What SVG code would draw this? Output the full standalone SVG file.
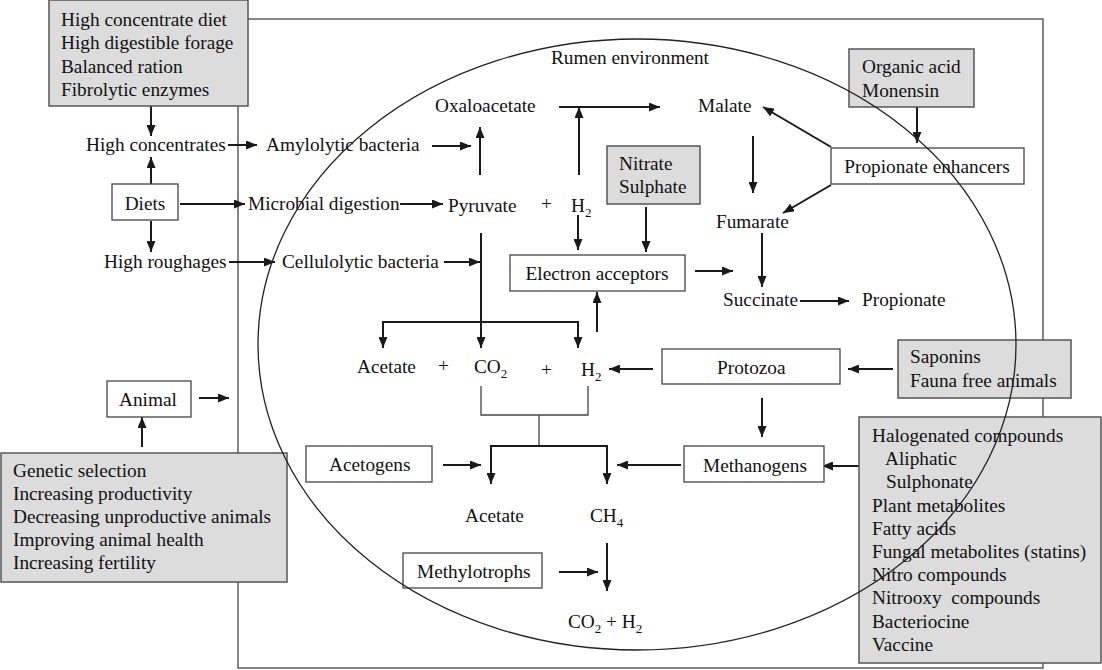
<svg xmlns="http://www.w3.org/2000/svg" width="1102" height="670" viewBox="0 0 1102 670">
<defs>
<marker id="ah" markerUnits="userSpaceOnUse" markerWidth="11" markerHeight="9" refX="11" refY="4.5" orient="auto"><path d="M0,0 L11,4.5 L0,9 z" fill="#1a1a1a"/></marker>
<style>
text{font-family:"Liberation Serif","Times New Roman",serif;font-size:19.3px;fill:#111}
.c{text-anchor:middle}
.sub{font-size:13px}
.gbox{fill:#dcdcdc;stroke:#555;stroke-width:1.5}
.wbox{fill:#fff;stroke:#444;stroke-width:1.3}
.frame{fill:none;stroke:#444;stroke-width:1.3}
.arr{fill:none;stroke:#1a1a1a;stroke-width:2;marker-end:url(#ah)}
.ln{fill:none;stroke:#1a1a1a;stroke-width:2}
.thin{fill:none;stroke:#444;stroke-width:1.3}
</style>
</defs>
<rect width="1102" height="670" fill="#fff"/>
<rect id="frame" class="frame" x="238" y="19" width="805" height="649"/>

<g id="connectors">
<line class="arr" x1="151" y1="106" x2="151" y2="136"/>
<line class="arr" x1="151" y1="184" x2="151" y2="157"/>
<line class="arr" x1="151" y1="221" x2="151" y2="252"/>
<line class="arr" x1="228" y1="145" x2="257" y2="145"/>
<line class="arr" x1="180" y1="204" x2="245" y2="204"/>
<line class="arr" x1="229" y1="262" x2="275" y2="262"/>
<line class="arr" x1="432" y1="146" x2="471" y2="146"/>
<line class="arr" x1="480" y1="175" x2="480" y2="127"/>
<line class="arr" x1="400" y1="204" x2="443" y2="204"/>
<line class="arr" x1="481" y1="233" x2="481" y2="348"/>
<line class="arr" x1="444" y1="262" x2="480" y2="262"/>
<path class="ln" d="M383,322 H578"/>
<line class="arr" x1="383" y1="321" x2="383" y2="348"/>
<line class="arr" x1="578" y1="321" x2="578" y2="348"/>
<line class="arr" x1="579" y1="175" x2="579" y2="107"/>
<line class="arr" x1="559" y1="107" x2="660" y2="107"/>
<line class="arr" x1="578" y1="215" x2="578" y2="250"/>
<line class="arr" x1="646" y1="207" x2="646" y2="252"/>
<line class="arr" x1="695" y1="271" x2="733" y2="271"/>
<line class="arr" x1="597" y1="332" x2="597" y2="292"/>
<line class="arr" x1="753" y1="136" x2="753" y2="193"/>
<line class="arr" x1="762" y1="233" x2="762" y2="287"/>
<line class="arr" x1="800" y1="301" x2="849" y2="301"/>
<line class="arr" x1="917" y1="107" x2="917" y2="143"/>
<line class="arr" x1="831" y1="147" x2="763" y2="107"/>
<line class="arr" x1="831" y1="185" x2="783" y2="213"/>
<line class="arr" x1="653" y1="369" x2="609" y2="369"/>
<line class="arr" x1="893" y1="369" x2="848" y2="369"/>
<line class="arr" x1="762" y1="398" x2="762" y2="437"/>
<line class="arr" x1="867" y1="466" x2="822" y2="466"/>
<path class="thin" d="M481,386 V415 H588 V386 M539,415 V446"/>
<path class="ln" d="M491,446 H607"/>
<line class="arr" x1="491" y1="445" x2="491" y2="484"/>
<line class="arr" x1="607" y1="445" x2="607" y2="484"/>
<line class="arr" x1="443" y1="465" x2="481" y2="465"/>
<line class="arr" x1="681" y1="465" x2="617" y2="465"/>
<line class="arr" x1="607" y1="543" x2="607" y2="591"/>
<line class="arr" x1="559" y1="572" x2="598" y2="572"/>
<line class="arr" x1="199" y1="398" x2="229" y2="398"/>
<line class="arr" x1="142" y1="447" x2="142" y2="417"/>
</g>

<g id="diet-strategies">
<rect class="gbox" x="49" y="0" width="199" height="106"/>
<text x="61" y="26">High concentrate diet</text>
<text x="61" y="49.3">High digestible forage</text>
<text x="61" y="72.6">Balanced ration</text>
<text x="61" y="95.9">Fibrolytic enzymes</text>
</g>
<g id="high-concentrates"><text x="86" y="151">High concentrates</text></g>
<g id="diets"><rect class="wbox" x="112" y="184" width="66" height="36"/><text class="c" x="145" y="210">Diets</text></g>
<g id="high-roughages"><text x="104" y="268">High roughages</text></g>
<g id="amylolytic"><text x="266" y="151">Amylolytic bacteria</text></g>
<g id="microbial"><text x="248" y="210">Microbial digestion</text></g>
<g id="cellulolytic"><text x="282" y="268">Cellulolytic bacteria</text></g>
<g id="rumen-label"><text x="551" y="64">Rumen environment</text></g>
<g id="oxaloacetate"><text x="435" y="112">Oxaloacetate</text></g>
<g id="malate"><text x="698" y="112">Malate</text></g>
<g id="pyruvate"><text x="448" y="212">Pyruvate</text><text x="541" y="210">+</text><text x="571" y="212">H<tspan class="sub" dy="5">2</tspan></text></g>
<g id="nitrate"><rect class="gbox" x="607" y="146" width="93" height="58"/><text x="619" y="170">Nitrate</text><text x="619" y="193">Sulphate</text></g>
<g id="electron-acceptors"><rect class="wbox" x="510" y="255" width="175" height="36"/><text class="c" x="597" y="280">Electron acceptors</text></g>
<g id="fumarate"><text x="716" y="228">Fumarate</text></g>
<g id="succinate"><text x="723" y="306">Succinate</text></g>
<g id="propionate"><text x="862" y="306">Propionate</text></g>
<g id="organic-acid"><rect class="gbox" x="849" y="49" width="125" height="58"/><text x="862" y="73">Organic acid</text><text x="862" y="97">Monensin</text></g>
<g id="propionate-enhancers"><rect class="wbox" x="831" y="148" width="193" height="36"/><text class="c" x="927" y="173">Propionate enhancers</text></g>
<g id="products"><text x="357" y="373">Acetate</text><text x="438" y="372">+</text><text x="474" y="373">CO<tspan class="sub" dy="5">2</tspan></text><text x="541" y="376">+</text><text x="581" y="376">H<tspan class="sub" dy="5">2</tspan></text></g>
<g id="protozoa"><rect class="wbox" x="662" y="349" width="178" height="35"/><text x="717" y="374">Protozoa</text></g>
<g id="saponins"><rect class="gbox" x="898" y="340" width="173" height="58"/><text x="910" y="363">Saponins</text><text x="910" y="387">Fauna free animals</text></g>
<g id="methanogens"><rect class="wbox" x="684" y="446" width="140" height="36"/><text x="703" y="472">Methanogens</text></g>
<g id="inhibitors"><rect class="gbox" x="859" y="417" width="242" height="246"/>
<text x="872" y="442">Halogenated compounds</text>
<text x="885" y="465.2">Aliphatic</text>
<text x="886" y="488.4">Sulphonate</text>
<text x="872" y="511.6">Plant metabolites</text>
<text x="872" y="534.8">Fatty acids</text>
<text x="872" y="558">Fungal metabolites (statins)</text>
<text x="872" y="581.2">Nitro compounds</text>
<text x="872" y="604.4" xml:space="preserve">Nitrooxy  compounds</text>
<text x="872" y="627.6">Bacteriocine</text>
<text x="872" y="650.8">Vaccine</text>
</g>
<g id="acetogens"><rect class="wbox" x="306" y="446" width="126" height="36"/><text x="329" y="471">Acetogens</text></g>
<g id="acetate-ch4"><text x="465" y="522">Acetate</text><text x="590" y="522">CH<tspan class="sub" dy="5">4</tspan></text></g>
<g id="methylotrophs"><rect class="wbox" x="403" y="553" width="139" height="35"/><text x="417" y="578">Methylotrophs</text></g>
<g id="co2-h2"><text x="568" y="628">CO<tspan class="sub" dy="5">2</tspan><tspan dy="-5"> + H</tspan><tspan class="sub" dy="5">2</tspan></text></g>
<g id="animal"><rect class="wbox" x="107" y="381" width="84" height="36"/><text x="119" y="406">Animal</text></g>
<g id="animal-strategies"><rect class="gbox" x="1" y="453" width="286" height="129"/>
<text x="13" y="477">Genetic selection</text>
<text x="13" y="500">Increasing productivity</text>
<text x="13" y="523">Decreasing unproductive animals</text>
<text x="13" y="546">Improving animal health</text>
<text x="13" y="569">Increasing fertility</text>
</g>
<ellipse id="rumen" cx="637" cy="344.5" rx="379" ry="305.5" fill="none" stroke="#222" stroke-width="1.3"/>
</svg>
